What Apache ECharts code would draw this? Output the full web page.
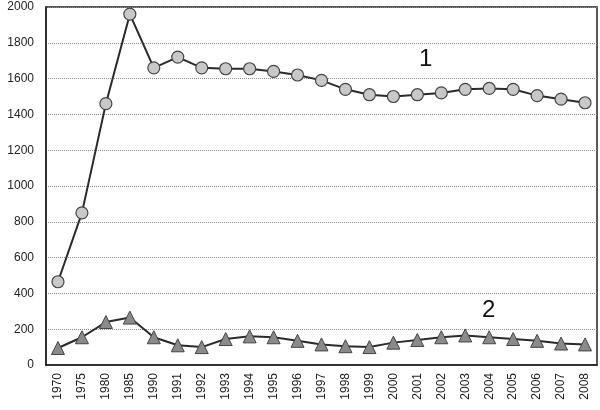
<!DOCTYPE html>
<html>
<head>
<meta charset="utf-8">
<script src="https://cdn.jsdelivr.net/npm/echarts@6/dist/echarts.min.js"></script>
<style>
  html, body { margin: 0; padding: 0; background: #fff; }
  #chart { width: 600px; height: 410px; }
</style>
</head>
<body>
<div id="chart"></div>
<script>
var years = ['1970', '1975', '1980', '1985', '1990', '1991', '1992', '1993', '1994', '1995', '1996',
  '1997', '1998', '1999', '2000', '2001', '2002', '2003', '2004', '2005', '2006', '2007', '2008'];
var series1 = [465, 850, 1460, 1960, 1660, 1720, 1660, 1655, 1655, 1640, 1620,
  1590, 1540, 1510, 1500, 1510, 1520, 1540, 1545, 1540, 1505, 1485, 1465];
var series2 = [95, 155, 240, 265, 155, 110, 100, 145, 160, 155, 135,
  115, 105, 100, 125, 140, 155, 165, 155, 145, 135, 120, 115];

var chart = echarts.init(document.getElementById('chart'), null, { renderer: 'canvas' });

var option = {
  animation: false,
  backgroundColor: '#fff',
  grid: {
    left: 46,
    right: 3,
    top: 7,
    bottom: 45,
    show: true,
    borderColor: '#222',
    borderWidth: 1.5
  },
  xAxis: {
    type: 'category',
    data: years,
    boundaryGap: true,
    axisLine: { lineStyle: { color: '#222', width: 1.5 } },
    axisTick: { show: false },
    axisLabel: {
      rotate: 90,
      interval: 0,
      color: '#222',
      fontSize: 12,
      fontFamily: 'Arial, Liberation Sans',
      margin: 8
    }
  },
  yAxis: {
    type: 'value',
    min: 0,
    max: 2000,
    interval: 200,
    axisLine: { show: true, lineStyle: { color: '#222', width: 1.5 } },
    axisTick: { show: false },
    axisLabel: {
      color: '#222',
      fontSize: 12,
      fontFamily: 'Arial, Liberation Sans',
      margin: 12,
      formatter: function (v) { return String(v); }
    },
    splitLine: { lineStyle: { color: '#888', type: 'dotted', width: 1 } }
  },
  series: [{
    name: '1',
    type: 'line',
    data: series1,
    symbol: 'circle',
    symbolSize: 12,
    lineStyle: { color: '#2a2a2a', width: 2 },
    itemStyle: { color: '#c8c8c8', borderColor: '#444', borderWidth: 1.2 },
    z: 3
  }, {
    name: '2',
    type: 'line',
    data: series2,
    symbol: 'triangle',
    symbolSize: 13,
    lineStyle: { color: '#2a2a2a', width: 2 },
    itemStyle: { color: '#8a8a8a', borderColor: '#444', borderWidth: 1 },
    z: 3
  }],
  graphic: [{
    type: 'text',
    left: 419,
    top: 47,
    style: { text: '1', font: '24px Arial, Liberation Sans', fill: '#111' }
  }, {
    type: 'text',
    left: 482,
    top: 298,
    style: { text: '2', font: '24px Arial, Liberation Sans', fill: '#111' }
  }]
};

chart.setOption(option);
</script>
</body>
</html>
